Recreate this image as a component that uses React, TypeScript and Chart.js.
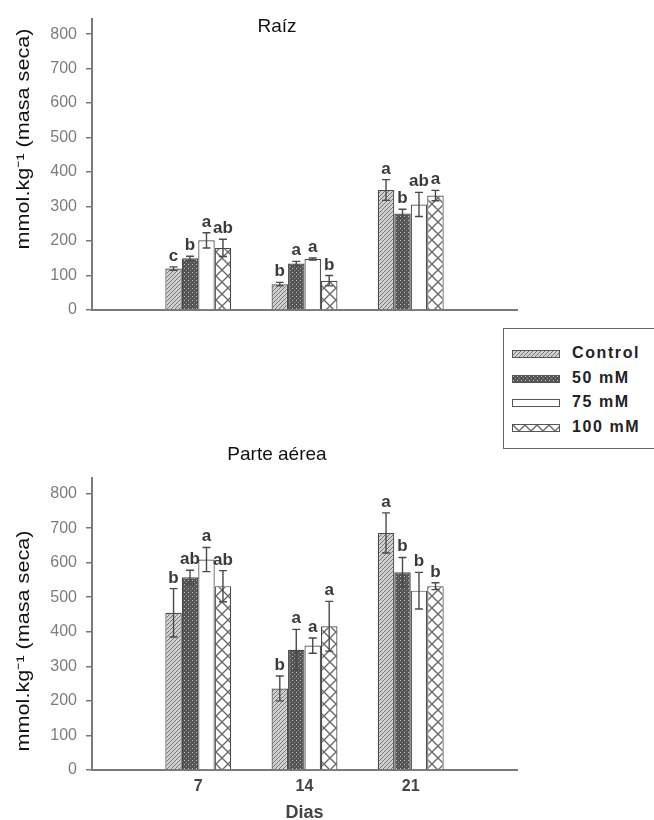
import React, { useEffect, useMemo, useRef } from 'react';
import { Chart, registerables } from 'chart.js';

Chart.register(...registerables);

const FONT = '"Liberation Sans", Arial, Helvetica, sans-serif';

// ---- data ----
const days = [7, 14, 21];
const yTicks = [0, 100, 200, 300, 400, 500, 600, 700, 800];
const seriesNames = ['Control', '50 mM', '75 mM', '100 mM'];
const yTitle = 'mmol.kg⁻¹ (masa seca)';

// Raíz
const raizControl = [120, 75, 348];
const raiz50 = [150, 135, 280];
const raiz75 = [202, 148, 306];
const raiz100 = [180, 85, 332];
const raizControlErr = [5, 5, 30];
const raiz50Err = [6, 6, 12];
const raiz75Err = [22, 3, 35];
const raiz100Err = [25, 15, 15];
const raizControlLetters = ['c', 'b', 'a'];
const raiz50Letters = ['b', 'a', 'b'];
const raiz75Letters = ['a', 'a', 'ab'];
const raiz100Letters = ['ab', 'b', 'a'];

// Parte aérea
const aereaControl = [455, 236, 686];
const aerea50 = [558, 348, 572];
const aerea75 = [609, 360, 519];
const aerea100 = [532, 416, 532];
const aereaControlErr = [70, 36, 58];
const aerea50Err = [20, 59, 43];
const aerea75Err = [35, 22, 53];
const aerea100Err = [45, 72, 10];
const aereaControlLetters = ['b', 'b', 'a'];
const aerea50Letters = ['ab', 'a', 'b'];
const aerea75Letters = ['a', 'a', 'b'];
const aerea100Letters = ['ab', 'a', 'b'];

// ---- patterns ----
type Kind = 'control' | 'dots' | 'white' | 'cross';
const patternKinds: Kind[] = ['control', 'dots', 'white', 'cross'];

function makeTile(kind: Kind): HTMLCanvasElement {
  const c = document.createElement('canvas');
  if (kind === 'control') {
    c.width = 4; c.height = 4;
    const g = c.getContext('2d')!;
    g.fillStyle = '#d0d0d0'; g.fillRect(0, 0, 4, 4);
    g.strokeStyle = '#767676'; g.lineWidth = 1;
    g.beginPath();
    g.moveTo(-1, 5); g.lineTo(5, -1);
    g.moveTo(-1, 1); g.lineTo(1, -1);
    g.moveTo(3, 5); g.lineTo(5, 3);
    g.stroke();
  } else if (kind === 'dots') {
    c.width = 4; c.height = 4;
    const g = c.getContext('2d')!;
    g.fillStyle = '#555555'; g.fillRect(0, 0, 4, 4);
    g.fillStyle = '#bdbdbd'; g.fillRect(0, 0, 1, 1);
    g.fillStyle = '#909090'; g.fillRect(2, 2, 1, 1);
  } else if (kind === 'white') {
    c.width = 4; c.height = 4;
    const g = c.getContext('2d')!;
    g.fillStyle = '#ffffff'; g.fillRect(0, 0, 4, 4);
  } else {
    c.width = 12; c.height = 12;
    const g = c.getContext('2d')!;
    g.fillStyle = '#ffffff'; g.fillRect(0, 0, 12, 12);
    g.strokeStyle = '#6a6a6a'; g.lineWidth = 1.4;
    g.beginPath();
    g.moveTo(0, 0); g.lineTo(12, 12);
    g.moveTo(12, 0); g.lineTo(0, 12);
    g.stroke();
  }
  return c;
}

function makeErrorPlugin(errors: number[][], letters: string[][]) {
  return {
    id: 'errbars',
    afterDatasetsDraw(chart: any) {
      const ctx = chart.ctx;
      const ys = chart.scales.y;
      chart.data.datasets.forEach((ds: any, di: number) => {
        const meta = chart.getDatasetMeta(di);
        meta.data.forEach((bar: any, i: number) => {
          const v = ds.data[i].y;
          const e = errors[di][i];
          const yt = ys.getPixelForValue(v + e);
          const yb = ys.getPixelForValue(v - e);
          ctx.save();
          ctx.strokeStyle = '#4a4a4a';
          ctx.lineWidth = 1.4;
          ctx.beginPath();
          ctx.moveTo(bar.x, yt); ctx.lineTo(bar.x, yb);
          ctx.moveTo(bar.x - 4, yt); ctx.lineTo(bar.x + 4, yt);
          ctx.moveTo(bar.x - 4, yb); ctx.lineTo(bar.x + 4, yb);
          ctx.stroke();
          ctx.font = `bold 17px ${FONT}`;
          ctx.fillStyle = '#3a3a3a';
          ctx.textAlign = 'center';
          ctx.textBaseline = 'alphabetic';
          ctx.fillText(letters[di][i], bar.x, yt - 6);
          ctx.restore();
        });
      });
    },
  };
}

function makeTextPlugin(title: string, titleY: number, axisTitleY: number) {
  return {
    id: 'paneltexts',
    afterDraw(chart: any) {
      const ctx = chart.ctx;
      ctx.save();
      ctx.font = `19px ${FONT}`;
      ctx.fillStyle = '#111';
      ctx.textAlign = 'center';
      ctx.textBaseline = 'middle';
      ctx.fillText(title, chart.width / 2, titleY);
      ctx.restore();

      ctx.save();
      ctx.translate(24, axisTitleY);
      ctx.rotate(-Math.PI / 2);
      ctx.scale(1.2, 1);
      ctx.font = `18px ${FONT}`;
      ctx.fillStyle = '#111';
      ctx.textAlign = 'center';
      ctx.textBaseline = 'middle';
      ctx.fillText(yTitle, 0, 0);
      ctx.restore();
    },
  };
}

interface PanelProps {
  title: string;
  titleY: number;
  axisTitleY: number;
  values: number[][];
  errors: number[][];
  letters: string[][];
  bottomAxis: boolean;
  height: number;
  padTop: number;
  padBottom: number;
}

function Panel(p: PanelProps) {
  const ref = useRef<HTMLCanvasElement | null>(null);
  useEffect(() => {
    const canvas = ref.current!;
    const ctx = canvas.getContext('2d')!;
    const pats = patternKinds.map((k) => ctx.createPattern(makeTile(k), 'repeat'));
    const chart = new Chart(canvas, {
      type: 'bar',
      data: {
        datasets: seriesNames.map((name, si) => ({
          label: name,
          data: days.map((d, i) => ({ x: d, y: p.values[si][i] })),
          backgroundColor: pats[si] as any,
          borderColor: '#4a4a4a',
          borderWidth: 1.2,
          categoryPercentage: 0.62,
          barPercentage: 1.0,
        })),
      },
      options: {
        animation: false,
        responsive: false,
        maintainAspectRatio: false,
        devicePixelRatio: 1,
        layout: { padding: { top: p.padTop, right: 37, bottom: p.padBottom, left: 0 } },
        plugins: { legend: { display: false }, tooltip: { enabled: false }, title: { display: false } },
        scales: {
          x: {
            type: 'linear',
            min: 0,
            max: 28,
            offset: false,
            afterBuildTicks: (s: any) => { s.ticks = days.map((v) => ({ value: v })); },
            afterFit: (s: any) => { s.height = p.bottomAxis ? 54 : 0; },
            ticks: {
              display: p.bottomAxis,
              color: '#444',
              font: { size: 16, weight: 'bold', family: FONT },
              padding: 7,
              autoSkip: false,
              maxRotation: 0,
              callback: (v: any) => String(v),
            },
            grid: { display: true, drawOnChartArea: false, drawTicks: false },
            border: { display: true, color: '#7a7a7a', width: 2 },
            title: {
              display: p.bottomAxis,
              text: 'Dias',
              color: '#444',
              font: { size: 18, weight: 'bold', family: FONT },
              padding: { top: 0, bottom: 0 },
            },
          },
          y: {
            min: 0,
            max: 845,
            afterBuildTicks: (s: any) => { s.ticks = yTicks.map((v) => ({ value: v })); },
            afterFit: (s: any) => { s.width = 92; },
            ticks: { color: '#7c7c7c', font: { size: 16, family: FONT }, padding: 9 },
            grid: { display: true, drawOnChartArea: false, drawTicks: true, tickLength: 6, color: '#7a7a7a', lineWidth: 1.5 },
            border: { display: true, color: '#7a7a7a', width: 2 },
            title: { display: false },
          },
        },
      } as any,
      plugins: [makeErrorPlugin(p.errors, p.letters), makeTextPlugin(p.title, p.titleY, p.axisTitleY)],
    });
    return () => chart.destroy();
  }, []);
  return <canvas ref={ref} width={554} height={p.height} style={{ display: 'block', width: 554, height: p.height }} />;
}

function Legend() {
  const urls = useMemo(() => patternKinds.map((k) => makeTile(k).toDataURL()), []);
  const rowCenters = [25, 50, 74, 98.5];
  return (
    <div style={{ position: 'absolute', left: 503, top: 328, width: 160, height: 121, border: '1px solid #666', background: '#fff', boxSizing: 'border-box' }}>
      {seriesNames.map((name, i) => (
        <React.Fragment key={name}>
          <div style={{ position: 'absolute', left: 8, top: rowCenters[i] - 4, width: 48, height: 8, boxSizing: 'border-box', border: '1px solid #555', backgroundImage: `url(${urls[i]})` }} />
          <div style={{ position: 'absolute', left: 68, top: rowCenters[i] - 10, height: 20, lineHeight: '20px', font: `bold 16px ${FONT}`, color: '#222', letterSpacing: '1.6px', whiteSpace: 'nowrap' }}>{name}</div>
        </React.Fragment>
      ))}
    </div>
  );
}

export default function App() {
  useEffect(() => {
    document.body.style.margin = '0';
    document.body.style.overflow = 'hidden';
  }, []);
  return (
    <div style={{ position: 'absolute', left: 0, top: 0, width: 654, height: 820, overflow: 'hidden', background: '#fff' }}>
      <div style={{ position: 'absolute', left: 0, top: 0 }}>
        <Panel
          title="Raíz"
          titleY={27}
          axisTitleY={139}
          values={[raizControl, raiz50, raiz75, raiz100]}
          errors={[raizControlErr, raiz50Err, raiz75Err, raiz100Err]}
          letters={[raizControlLetters, raiz50Letters, raiz75Letters, raiz100Letters]}
          bottomAxis={false}
          height={330}
          padTop={17}
          padBottom={20}
        />
      </div>
      <div style={{ position: 'absolute', left: 0, top: 440 }}>
        <Panel
          title="Parte aérea"
          titleY={15}
          axisTitleY={201}
          values={[aereaControl, aerea50, aerea75, aerea100]}
          errors={[aereaControlErr, aerea50Err, aerea75Err, aerea100Err]}
          letters={[aereaControlLetters, aerea50Letters, aerea75Letters, aerea100Letters]}
          bottomAxis={true}
          height={384}
          padTop={38}
          padBottom={0}
        />
      </div>
      <Legend />
    </div>
  );
}
